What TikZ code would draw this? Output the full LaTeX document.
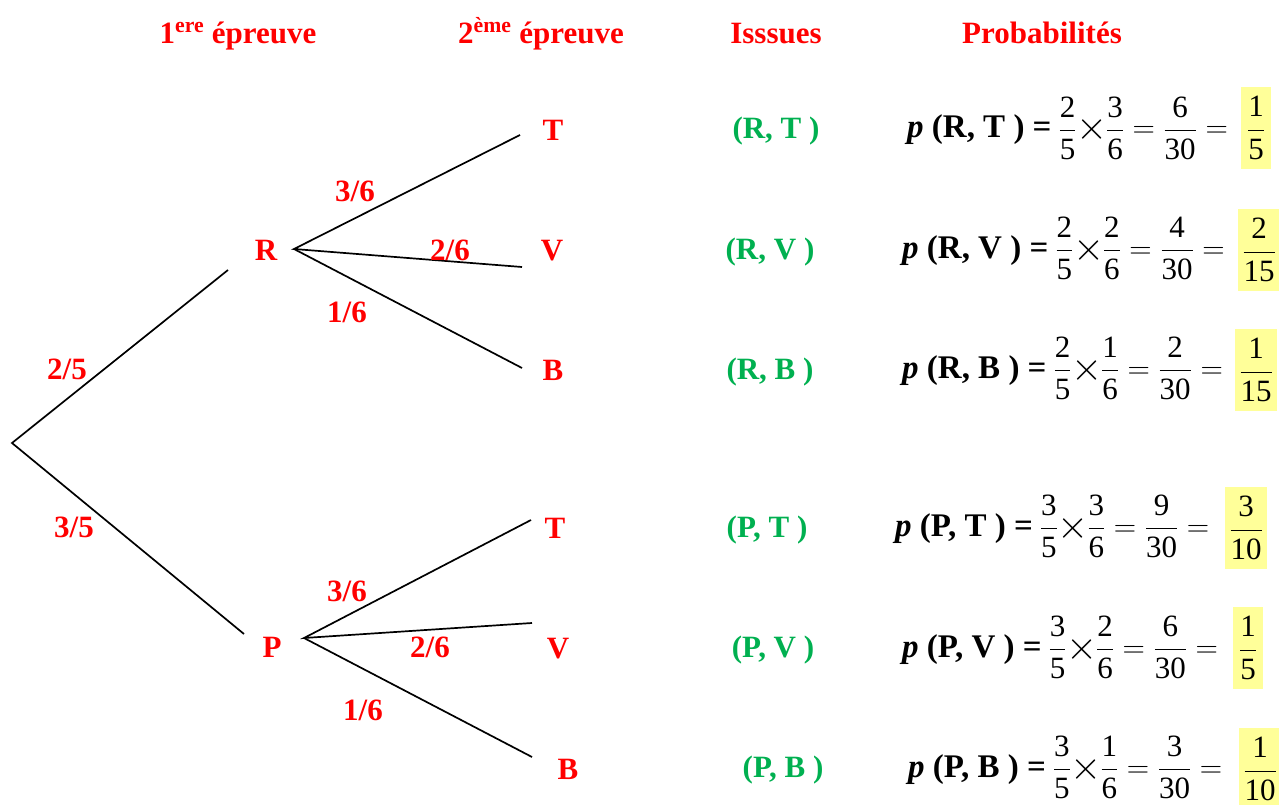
\RequirePackage{fix-cm}
\documentclass[tikz,border=0pt]{standalone}
\usepackage{amsmath}
\usepackage{fontspec}
\setmainfont{Liberation Serif}
\definecolor{myred}{RGB}{255,0,0}
\definecolor{mygreen}{RGB}{0,176,80}
\definecolor{myyellow}{RGB}{255,255,153}
\newcommand\fr[2]{\dfrac{\textnormal{#1}}{\textnormal{#2}}}
\newcommand\tms{\mathord{\raisebox{-2pt}{\fontsize{40}{40}\selectfont$\times$}}\kern-1.5pt}
\newcommand\lhs[2]{{\fontsize{33}{37}\selectfont\textbf{\textit{p} (#1, #2 ) =}}\hspace{7pt}}
\begin{document}
\begin{tikzpicture}[x=1pt,y=-1pt,
  lbl/.style={font=\fontsize{31}{37}\selectfont\bfseries, text=myred, inner sep=0pt, anchor=base},
  iss/.style={font=\fontsize{31}{37}\selectfont\bfseries, text=mygreen, inner sep=0pt, anchor=base},
  br/.style={line width=1.7pt, black},
  frm/.style={font=\fontsize{31}{37}\selectfont, inner sep=0pt, anchor=base west},
  res/.style={fill=myyellow, inner xsep=4.5pt, inner ysep=0pt, minimum height=82pt, minimum width=30pt, font=\fontsize{31}{37}\selectfont}]
\useasboundingbox (0,0) rectangle (1279,805);
% headers
\node[lbl] (h1) at (238,44) {1\textsuperscript{ere} épreuve};
\node[lbl] (h2) at (541,44) {2\textsuperscript{ème} épreuve};
\node[lbl] (h3) at (776,44) {Isssues};
\node[lbl] (h4) at (1042,44) {Probabilités};
% tree coordinates
\coordinate (O) at (12,443);
\coordinate (Rin) at (228,270);
\coordinate (Pin) at (244,634);
\coordinate (Rout) at (294,249);
\coordinate (Pout) at (304,638);
\coordinate (RT) at (520,135);
\coordinate (RV) at (522,267);
\coordinate (RB) at (522,368);
\coordinate (PT) at (531,520);
\coordinate (PV) at (532,623);
\coordinate (PB) at (532,757);
\draw[br] (Rin) -- (O) -- (Pin);
\draw[br] (RT) -- (Rout) -- (RV);
\draw[br] (Rout) -- (RB);
\draw[br] (PT) -- (Pout) -- (PV);
\draw[br] (Pout) -- (PB);
% tree labels
\node[lbl] (R) at (266,260) {R};
\node[lbl] (P) at (272,657) {P};
\node[lbl] (p25) at (67,379) {2/5};
\node[lbl] (p35) at (74,537) {3/5};
\node[lbl] (r36) at (355,202) {3/6};
\node[lbl] (r26) at (450,260) {2/6};
\node[lbl] (r16) at (347,322) {1/6};
\node[lbl] (q36) at (347,601) {3/6};
\node[lbl] (q26) at (430,657) {2/6};
\node[lbl] (q16) at (363,720) {1/6};
\node[lbl] (T1) at (553,141) {T};
\node[lbl] (V1) at (552,260) {V};
\node[lbl] (B1) at (553,380) {B};
\node[lbl] (T2) at (555,538) {T};
\node[lbl] (V2) at (558,658) {V};
\node[lbl] (B2) at (568,779) {B};
% issues
\node[iss] (i1) at (776,139) {(R, T )};
\node[iss] (i2) at (770,259) {(R, V )};
\node[iss] (i3) at (770,379) {(R, B )};
\node[iss] (i4) at (767,537) {(P, T )};
\node[iss] (i5) at (773,657) {(P, V )};
\node[iss] (i6) at (783,777) {(P, B )};
% formulas
\node[frm] (f1) at (907,138) {\lhs{R}{T}$\fr{2}{5}\tms\fr{3}{6}=\fr{6}{30}=$};
\node[frm] (f2) at (902,258) {\lhs{R}{V}$\fr{2}{5}\tms\fr{2}{6}=\fr{4}{30}=$};
\node[frm] (f3) at (902,378) {\lhs{R}{B}$\fr{2}{5}\tms\fr{1}{6}=\fr{2}{30}=$};
\node[frm] (f4) at (895,536) {\lhs{P}{T}$\fr{3}{5}\tms\fr{3}{6}=\fr{9}{30}=$};
\node[frm] (f5) at (902,657) {\lhs{P}{V}$\fr{3}{5}\tms\fr{2}{6}=\fr{6}{30}=$};
\node[frm] (f6) at (908,777) {\lhs{P}{B}$\fr{3}{5}\tms\fr{1}{6}=\fr{3}{30}=$};
% results
\node[res] (g1) at (1256,128) {$\fr{1}{5}$};
\node[res] (g2) at (1259,250) {$\fr{2}{15}$};
\node[res] (g3) at (1256,370) {$\fr{1}{15}$};
\node[res] (g4) at (1246,528) {$\fr{3}{10}$};
\node[res] (g5) at (1248,648) {$\fr{1}{5}$};
\node[res] (g6) at (1260,769) {$\fr{1}{10}$};
\end{tikzpicture}
\end{document}
